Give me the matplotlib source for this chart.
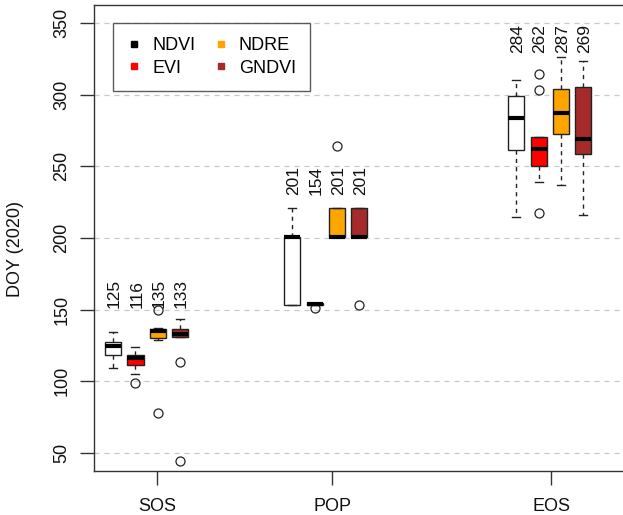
import matplotlib
matplotlib.use("Agg")
import matplotlib.pyplot as plt
from matplotlib.lines import Line2D
import numpy as np

plt.rcParams['font.family'] = ['Liberation Sans', 'DejaVu Sans']

# ---- data ----
groups = ["SOS", "POP", "EOS"]
indices = ["NDVI", "EVI", "NDRE", "GNDVI"]
colors = ["#FFFFFF", "#FF0000", "#FFA500", "#A52A2A"]
legend_colors = ["#000000", "#FF0000", "#FFA500", "#A52A2A"]

# per group, per index: whislo, q1, med, q3, whishi
whislo = [[109, 105, 129, 131], [153.3, 153.5, 201, 201], [214.5, 239, 237, 216]]
q1 = [[118.4, 111.4, 130.5, 131], [153.3, 153.5, 201, 201], [261.4, 250.4, 272.6, 258.4]]
med = [[125, 116, 135, 133], [201, 154, 201, 201], [284, 262, 287, 269]]
q3 = [[127.7, 118.4, 136.8, 136.5], [201, 154.5, 221, 221], [299.1, 270.7, 303.7, 305.6]]
whishi = [[134.6, 124.2, 137, 143.3], [220.7, 154.5, 221, 221], [310.2, 270.7, 326, 323.7]]
fliers = [[[], [98.6], [77.7, 150], [113.7, 44.6]],
          [[], [151], [264], [153.3]],
          [[], [217.2, 303.3, 314.4], [], []]]
median_labels = [["125", "116", "135", "133"], ["201", "154", "201", "201"],
                 ["284", "262", "287", "269"]]
yticks = [50, 100, 150, 200, 250, 300, 350]

# ---- layout ----
group_start = [1, 9, 19]
xtick_pos = [2.95, 10.79, 20.57]
label_base = [151, 230, 329]

fig = plt.figure(figsize=(6.23, 5.15), dpi=100)
ax = fig.add_axes([94/623, 44.5/515, 545.4/623, 465.5/515])
ax.set_xlim(0.15, 24.5)
ax.set_ylim(37.8, 362.6)

for yv in yticks:
    ax.axhline(yv, color="#c8c8c8", lw=0.9, ls=(0, (4, 4)), zorder=0)

for gi in range(3):
    for ii in range(4):
        pos = group_start[gi] + ii
        st = dict(whislo=whislo[gi][ii], q1=q1[gi][ii], med=med[gi][ii],
                  q3=q3[gi][ii], whishi=whishi[gi][ii], fliers=fliers[gi][ii])
        ax.bxp([st], positions=[pos], widths=0.72, patch_artist=True,
               showfliers=True, manage_ticks=False,
               boxprops=dict(facecolor=colors[ii], edgecolor="#222222", lw=1.0),
               medianprops=dict(color="black", lw=3, solid_capstyle="butt"),
               whiskerprops=dict(color="#222222", lw=1.0, ls=(0, (3, 3))),
               capprops=dict(color="#222222", lw=1.0),
               capwidths=0.36,
               flierprops=dict(marker="o", markerfacecolor="none",
                               markeredgecolor="#222222", markersize=6.5,
                               markeredgewidth=0.9))
        ax.text(pos + 0.06, label_base[gi], median_labels[gi][ii], rotation=90,
                ha="center", va="bottom", fontsize=12.5, color="#111111")

ax.set_xticks(xtick_pos)
ax.set_xticklabels(groups)
ax.set_yticks(yticks)
ax.set_yticklabels([str(v) for v in yticks], rotation=90, va="center")
ax.tick_params(axis="both", length=10, width=1.0, color="#333333",
               labelsize=13, labelcolor="#111111")
ax.tick_params(axis="x", pad=10)
ax.tick_params(axis="y", pad=7)
for side in ["left", "bottom", "top"]:
    ax.spines[side].set_color("#333333")
    ax.spines[side].set_linewidth(1.0)
ax.spines["right"].set_visible(False)

fig.text(16/623, 1 - 249/515, "DOY (2020)", rotation=90, ha="center",
         va="center", fontsize=13, color="#111111")

handles = [Line2D([], [], ls="none", marker="s", markersize=5,
                  markerfacecolor=c, markeredgecolor=c) for c in legend_colors]
leg = ax.legend(handles, indices,
                ncol=2, loc="upper left", bbox_to_anchor=(0.0348, 0.9613),
                borderaxespad=0, fontsize=13, frameon=True, fancybox=False,
                handlelength=0.8, handletextpad=0.6, columnspacing=1.0,
                labelspacing=0.3, borderpad=0.78)
leg.get_frame().set_edgecolor("#333333")
leg.get_frame().set_linewidth(1.0)

fig.savefig("out.png", dpi=100)
